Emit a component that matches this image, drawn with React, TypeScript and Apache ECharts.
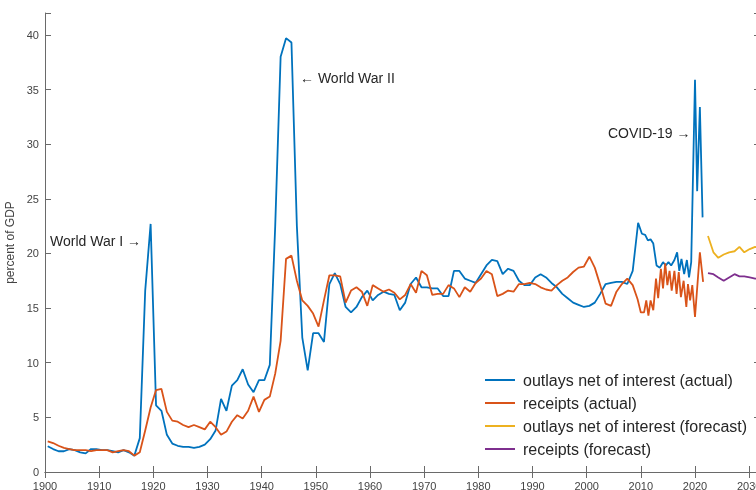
import React, { useEffect, useRef } from "react";
import * as echarts from "echarts";

// ---- data (percent of GDP) ----
const annualStart = 1900.5; // annual points are plotted at mid-year
const outlaysAnnual = [
  2.35, 2.1, 1.9, 1.9, 2.1, 2.0, 1.8, 1.7, 2.1, 2.1,
  2.0, 2.0, 1.9, 1.8, 2.0, 1.8, 1.5, 3.1, 16.6, 22.7,
  6.1, 5.6, 3.4, 2.6, 2.4, 2.3, 2.3, 2.2, 2.3, 2.5,
  3.0, 3.8, 6.7, 5.6, 7.9, 8.4, 9.4, 8.0, 7.3, 8.4,
  8.4, 9.8, 22.5, 38.0, 39.7, 39.3, 22.5, 12.3, 9.3, 12.7,
  12.7, 11.9, 17.2, 18.2, 17.2, 15.1, 14.6, 15.1, 16.0, 16.6,
  15.7, 16.2, 16.5, 16.3, 16.2, 14.8, 15.5, 17.2, 17.8, 16.9,
  16.9, 16.8, 16.8, 16.1, 16.1, 18.4, 18.4, 17.7, 17.5, 17.3,
  18.1, 18.9, 19.4, 19.3, 18.1, 18.6, 18.4, 17.5, 17.1, 17.1,
  17.8, 18.1, 17.8, 17.3, 16.9, 16.3, 15.9, 15.5, 15.3, 15.1,
  15.2, 15.5, 16.3, 17.2, 17.3, 17.4, 17.4, 17.2, 18.4,
];
const receiptsAnnual = [
  2.8, 2.65, 2.4, 2.2, 2.1, 2.0, 2.0, 2.0, 1.9, 2.0,
  2.0, 2.0, 1.8, 1.9, 2.0, 1.9, 1.5, 1.8, 3.8, 5.9,
  7.5, 7.6, 5.5, 4.7, 4.6, 4.3, 4.1, 4.3, 4.1, 3.9,
  4.6, 4.1, 3.4, 3.7, 4.6, 5.2, 4.9, 5.6, 6.9, 5.5,
  6.6, 6.9, 9.0, 12.0, 19.5, 19.8, 17.5, 15.7, 15.2, 14.5,
  13.3, 15.7, 18.0, 18.0, 17.9, 15.5, 16.6, 16.9, 16.5, 15.2,
  17.1, 16.8, 16.5, 16.7, 16.4, 15.8, 16.2, 17.2, 16.4, 18.4,
  18.0, 16.2, 16.3, 16.3, 17.1, 16.8, 16.0, 16.9, 16.5, 17.3,
  17.7, 18.4, 18.1, 16.1, 16.3, 16.6, 16.5, 17.2, 17.2, 17.3,
  17.2, 16.9, 16.7, 16.6, 17.1, 17.5, 17.8, 18.3, 18.7, 18.8,
  19.7, 18.7, 17.1, 15.4, 15.2, 16.5, 17.2, 17.7, 17.1,
];
// recent, more frequent observations
const outlaysRecentYears = [
  2009.5, 2010.2, 2010.8, 2011.3, 2011.8, 2012.3, 2012.9, 2013.5, 2014.1, 2014.6,
  2015.1, 2015.6, 2016.2, 2016.7, 2017.1, 2017.5, 2018.0, 2018.5, 2018.9, 2019.3,
  2020.0, 2020.4, 2020.9, 2021.4,
];
const outlaysRecent = [
  22.8, 21.8, 21.7, 21.2, 21.3, 20.9, 18.9, 18.7, 19.2, 18.9,
  19.2, 18.9, 19.4, 20.1, 18.4, 19.5, 18.1, 19.4, 17.8, 19.2,
  35.9, 25.7, 33.4, 23.3,
];
const receiptsRecentYears = [
  2009.4, 2010.0, 2010.6, 2011.0, 2011.4, 2011.8, 2012.3, 2012.8, 2013.2, 2013.7,
  2014.1, 2014.5, 2014.9, 2015.3, 2015.7, 2016.2, 2016.6, 2017.0, 2017.4, 2017.9,
  2018.4, 2018.7, 2019.1, 2019.5, 2020.0, 2020.9, 2021.5,
];
const receiptsRecent = [
  15.8, 14.6, 14.6, 15.7, 14.3, 15.7, 14.8, 17.7, 15.9, 18.6,
  16.8, 19.1, 17.1, 18.4, 16.6, 18.4, 16.3, 18.3, 16.0, 17.5,
  15.1, 17.2, 15.7, 17.1, 14.2, 20.1, 17.4,
];
const forecastYears = [2022.4, 2023.4, 2024.3, 2025.3, 2026.3, 2027.3, 2028.2, 2029.1, 2030.1, 2031.1, 2032.0];
const outlaysForecast = [21.6, 20.1, 19.6, 19.9, 20.1, 20.2, 20.6, 20.1, 20.4, 20.6, 20.5];
const receiptsForecast = [18.2, 18.1, 17.8, 17.5, 17.8, 18.1, 17.9, 17.9, 17.8, 17.7, 17.7];

const seriesNames = [
  "outlays net of interest (actual)",
  "receipts (actual)",
  "outlays net of interest (forecast)",
  "receipts (forecast)",
];
const colors = ["#0072BD", "#D95319", "#EDB120", "#7E2F8E"];

const pairs = (xs: number[], ys: number[]) => ys.map((v, i) => [xs[i], v]);
const annualPairs = (ys: number[]) => ys.map((v, i) => [annualStart + i, v]);

const FONT = '"Liberation Sans", Arial, Helvetica, sans-serif';
const AXIS = "#6a6a6a";

export default function App() {
  const ref = useRef<HTMLDivElement>(null);
  useEffect(() => {
    document.body.style.margin = "0";
    const chart = echarts.init(ref.current!, undefined, { renderer: "svg" });
    const axisCommon = {
      axisLine: { show: true, lineStyle: { color: AXIS, width: 1 } },
      axisTick: { show: true, inside: true, length: 6, lineStyle: { color: AXIS } },
      splitLine: { show: false },
    };
    const lineSeries = (i: number, data: number[][]) => ({
      name: seriesNames[i],
      type: "line",
      data,
      showSymbol: false,
      symbol: "none",
      lineStyle: { color: colors[i], width: 1.8 },
      itemStyle: { color: colors[i] },
      z: 2,
    });
    chart.setOption({
      animation: false,
      textStyle: { fontFamily: FONT },
      grid: { left: 45, top: 13, width: 715, height: 459, containLabel: false, outerBoundsMode: "none" },
      xAxis: [
        {
          type: "value", min: 1900, max: 2032, interval: 10, position: "bottom",
          ...axisCommon,
          axisLabel: {
            color: "#444", fontSize: 11, margin: 8, fontFamily: FONT,
            formatter: (v: number) => (v % 10 === 0 ? String(v) : ""),
          },
        },
        {
          type: "value", min: 1900, max: 2032, interval: 10, position: "top",
          ...axisCommon, axisLabel: { show: false },
        },
      ],
      yAxis: [
        {
          type: "value", min: 0, max: 42, interval: 5, position: "left",
          ...axisCommon,
          name: "percent of GDP", nameLocation: "middle", nameGap: 24,
          nameTextStyle: { color: "#444", fontSize: 12, fontFamily: FONT },
          axisLabel: {
            color: "#444", fontSize: 11, margin: 6, fontFamily: FONT,
            formatter: (v: number) => (v % 5 === 0 ? String(v) : ""),
          },
        },
        {
          type: "value", min: 0, max: 42, interval: 5, position: "right",
          ...axisCommon, axisLabel: { show: false },
        },
      ],
      legend: {
        orient: "vertical", left: 480, top: 367, itemWidth: 30, itemHeight: 2, itemGap: 7,
        icon: "rect",
        data: seriesNames,
        textStyle: { fontSize: 16, color: "#262626", fontFamily: FONT, padding: [0, 0, 0, 3] },
      },
      series: [
        lineSeries(0, [...annualPairs(outlaysAnnual), ...pairs(outlaysRecentYears, outlaysRecent)]),
        lineSeries(1, [...annualPairs(receiptsAnnual), ...pairs(receiptsRecentYears, receiptsRecent)]),
        lineSeries(2, pairs(forecastYears, outlaysForecast)),
        lineSeries(3, pairs(forecastYears, receiptsForecast)),
      ],
      graphic: [
        { type: "text", left: 50, top: 234, style: { text: "World War I \u2192", fontSize: 14, fill: "#262626", fontFamily: FONT } },
        { type: "text", left: 300, top: 71, style: { text: "\u2190 World War II", fontSize: 14, fill: "#262626", fontFamily: FONT } },
        { type: "text", left: 608, top: 126, style: { text: "COVID-19 \u2192", fontSize: 14, fill: "#262626", fontFamily: FONT } },
      ],
    });
    return () => chart.dispose();
  }, []);
  return <div ref={ref} style={{ position: "fixed", left: 0, top: 0, width: 756, height: 490 }} />;
}
